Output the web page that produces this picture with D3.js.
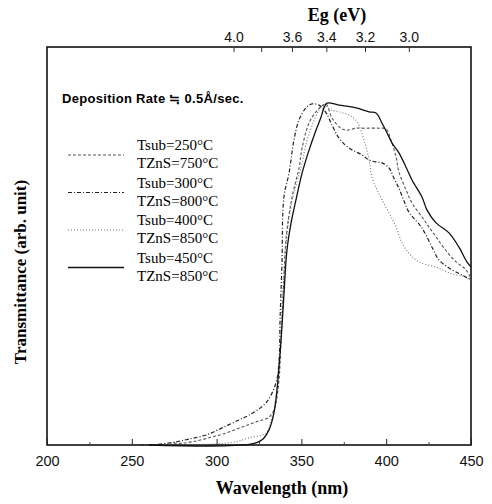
<!DOCTYPE html>
<html><head><meta charset="utf-8">
<script src="https://cdn.jsdelivr.net/npm/d3@7"></script>
<style>body{margin:0;background:#fff}</style>
</head><body>
<script>
// ---- data ----
const wavelengthTicks = [200, 250, 300, 350, 400, 450];
const wavelengthMinorTicks = [225, 275, 325, 375, 425];
const egTicks = [4.0, 3.8, 3.6, 3.4, 3.2, 3.0];
const egLabelled = [4.0, 3.6, 3.4, 3.2, 3.0];

const seriesNames = ["Tsub=250°C|TZnS=750°C", "Tsub=300°C|TZnS=800°C", "Tsub=400°C|TZnS=850°C", "Tsub=450°C|TZnS=850°C"];

const s250 = [[260,0],[276.1,0.3],[285.5,0.8],[295.5,1.8],[305.5,3.0],[315,4.5],[323.2,5.8],[330.9,7.0],[334,9],[336.5,15],[338,26],[339.5,40],[341,52],[344.5,62.3],[348.6,69.6],[350.4,74.6],[354.5,80.9],[358.6,83.7],[362.1,85.2],[364.5,85.7],[368,82.2],[373.3,79.6],[376.9,79.1],[382.2,79.6],[388.1,79.6],[395.8,79.6],[399.9,79.4],[402.8,76.6],[405.8,72.4],[407.5,68.6],[411.7,64.1],[415.2,60.8],[421.1,57.3],[425.2,54.8],[429.4,52.3],[435.3,48.8],[441.2,46.0],[447.1,44.0],[450,41.8]];
const s300 = [[255,0],[264.3,0.1],[276.1,0.8],[283.7,1.5],[293.8,2.5],[303.2,4.3],[313.2,6.3],[319.1,7.5],[329.1,10.6],[335,15.6],[336.8,21],[337.4,31.4],[338.5,45],[339.7,62.3],[342.7,68.3],[345.6,76.6],[348.6,81.7],[352.7,84.7],[356.3,85.7],[360.4,85.4],[364.5,83.5],[368,80.4],[372.2,77.1],[378.1,74.6],[385.7,72.9],[389.9,71.6],[394,71.1],[397.5,70.9],[401.7,69.6],[404.6,67.0],[407.5,64.5],[410.5,61.3],[413.4,58.5],[421.1,54.5],[427,49.7],[431.1,46.5],[437,44.5],[444.7,42.7],[450,41.5]];
const s400 = [[280,0],[299.6,0.3],[311.4,0.8],[319.1,1.8],[329.1,3.0],[332.7,7.0],[335,12],[337,22],[338.5,35],[340.5,48],[343,58],[346,64],[350,70],[353,76],[357,81],[360.5,84.2],[363.3,85.2],[367.5,84.2],[372.2,83.7],[378.1,82.9],[382.8,81.2],[386.9,76.6],[389.9,71.6],[391.6,67.3],[394.6,64.1],[397.5,61.6],[401.7,58.3],[405.8,54.8],[409.3,50.8],[413.4,48.2],[419.3,46.0],[429.4,44.7],[438.8,43.0],[447.1,42.2],[450,41.0]];
const s450 = [[260,0],[320,0.2],[326.8,1.3],[330.9,3.8],[333.8,8.0],[335.6,13.8],[338.0,26.4],[339.5,36.4],[341.5,49],[344,56],[346.8,61.6],[350.4,68.3],[354.5,74.1],[358.6,79.1],[361.6,82.4],[363.3,84.7],[365.1,85.9],[372.2,85.4],[382.2,84.7],[389.9,83.7],[394,83.4],[397.5,80.9],[400.5,78.4],[403.4,75.9],[407.5,73.4],[411.7,69.8],[415.2,66.6],[421.1,62.3],[424.1,59.0],[429.4,55.8],[437,53.3],[442.9,49.7],[447.6,46.0],[450,44.7]];
const seriesData = [s250, s300, s400, s450];

// ---- styles ----
const styles = [
  {stroke:"#555", dash:"3,2", width:1.1},
  {stroke:"#222", dash:"4,2,1,2", width:1.2},
  {stroke:"#777", dash:"1,2", width:1.1},
  {stroke:"#111", dash:null, width:1.3}
];

const W = 492, H = 504;
const L = 47, R = 471, T = 47, B = 445;

const svg = d3.select("body").append("svg").attr("width", W).attr("height", H)
  .style("font-family", "'Liberation Serif', serif");

const x = d3.scaleLinear().domain([200, 450]).range([L, R]);
const y = d3.scaleLinear().domain([0, 100]).range([B, T]);

// frame
svg.append("rect").attr("x", L).attr("y", T).attr("width", R - L).attr("height", B - T)
  .attr("fill", "none").attr("stroke", "#111").attr("stroke-width", 1.6);

// bottom axis
const xAxis = d3.axisBottom(x).tickValues(wavelengthTicks).tickSize(-6).tickPadding(11).tickFormat(d3.format("d"));
const gx = svg.append("g").attr("transform", `translate(0,${B})`).call(xAxis);
gx.select(".domain").remove();
gx.selectAll("line").attr("stroke", "#222");
gx.selectAll("text").attr("font-family", "'Liberation Sans', Arial, sans-serif").attr("font-size", 14.5).attr("fill", "#111");
const gxm = svg.append("g").attr("transform", `translate(0,${B})`)
  .call(d3.axisBottom(x).tickValues(wavelengthMinorTicks).tickSize(-3).tickFormat(""));
gxm.select(".domain").remove();
gxm.selectAll("line").attr("stroke", "#444");

// top axis (Eg = 1240 / λ)
const topAxis = d3.axisTop(x).tickValues(egTicks.map(e => 1240 / e)).tickSize(-5).tickPadding(5)
  .tickFormat((d, i) => egLabelled.includes(egTicks[i]) ? egTicks[i].toFixed(1) : "");
const gt = svg.append("g").attr("transform", `translate(0,${T})`).call(topAxis);
gt.select(".domain").remove();
gt.selectAll("line").attr("stroke", "#333");
gt.selectAll("text").attr("font-family", "'Liberation Sans', Arial, sans-serif").attr("font-size", 14).attr("fill", "#111");

// titles
svg.append("text").attr("x", 337).attr("y", 21).attr("text-anchor", "middle")
  .attr("font-weight", "bold").attr("font-size", 18).text("Eg  (eV)");
svg.append("text").attr("x", 282).attr("y", 494).attr("text-anchor", "middle")
  .attr("font-weight", "bold").attr("font-size", 18).text("Wavelength  (nm)");
svg.append("text").attr("transform", "translate(26,272) rotate(-90)").attr("text-anchor", "middle")
  .attr("font-weight", "bold").attr("font-size", 17).text("Transmittance  (arb. unit)");

// curves
const line = d3.line().x(d => x(d[0])).y(d => y(d[1])).curve(d3.curveCatmullRom.alpha(0.5));
seriesData.forEach((s, i) => {
  svg.append("path").datum(s).attr("d", line).attr("fill", "none")
    .attr("stroke", styles[i].stroke).attr("stroke-width", styles[i].width)
    .attr("stroke-dasharray", styles[i].dash);
});

// legend
svg.append("text").attr("x", 62).attr("y", 103).attr("font-family", "'Liberation Sans', Arial, sans-serif")
  .attr("font-weight", "bold").attr("font-size", 13).attr("letter-spacing", 0.3).text("Deposition Rate ≒ 0.5Å/sec.");
seriesNames.forEach((n, i) => {
  const yy = 145 + i * 37.5;
  const parts = n.split("|");
  svg.append("line").attr("x1", 68).attr("x2", 124).attr("y1", yy + 10).attr("y2", yy + 10)
    .attr("stroke", styles[i].stroke).attr("stroke-width", styles[i].width)
    .attr("stroke-dasharray", styles[i].dash);
  svg.append("text").attr("x", 137).attr("y", yy + 5).attr("font-size", 15).text(parts[0]);
  svg.append("text").attr("x", 137).attr("y", yy + 23).attr("font-size", 15).text(parts[1]);
});
</script>
</body></html>
